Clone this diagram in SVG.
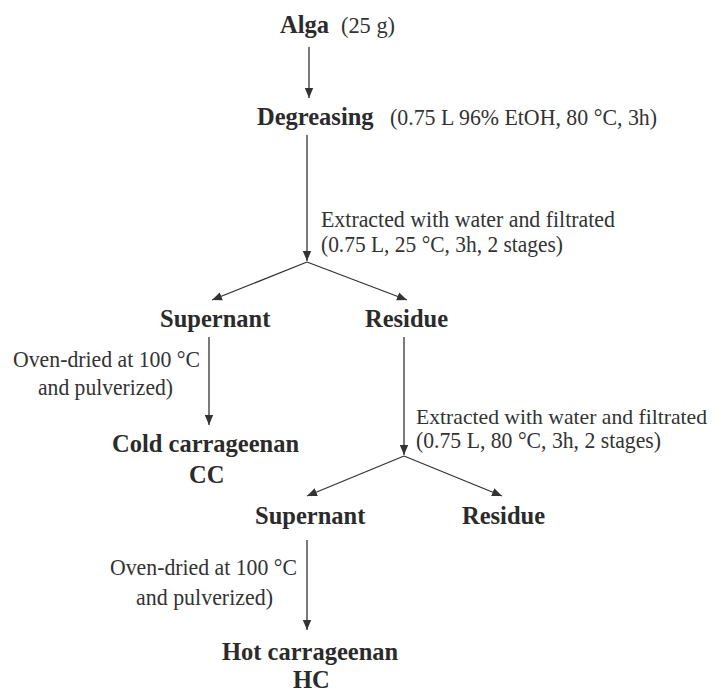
<svg xmlns="http://www.w3.org/2000/svg" width="714" height="693" viewBox="0 0 714 693">
<style>
.b{font-family:"Liberation Serif","Times New Roman",serif;font-weight:bold;font-size:24.5px;fill:#2b2b2b}
.r{font-family:"Liberation Serif","Times New Roman",serif;font-size:23px;fill:#333}
.c{stroke:#333;stroke-width:1.3;fill:none}
</style>
<defs>
<marker id="ah" markerUnits="userSpaceOnUse" markerWidth="12" markerHeight="10" refX="10" refY="5" orient="auto">
<path d="M0,0.8 L10,5 L0,9.2 Z" fill="#333"/>
</marker>
</defs>
<rect width="714" height="693" fill="#fff"/>
<g id="connectors">
<line class="c" x1="309" y1="47" x2="309" y2="98" marker-end="url(#ah)"/>
<line class="c" x1="307" y1="135" x2="307" y2="261" marker-end="url(#ah)"/>
<line class="c" x1="307" y1="262" x2="212" y2="300" marker-end="url(#ah)"/>
<line class="c" x1="307" y1="262" x2="407" y2="300" marker-end="url(#ah)"/>
<line class="c" x1="209" y1="337" x2="209" y2="425" marker-end="url(#ah)"/>
<line class="c" x1="404" y1="337" x2="404" y2="455" marker-end="url(#ah)"/>
<line class="c" x1="404" y1="456" x2="307" y2="496" marker-end="url(#ah)"/>
<line class="c" x1="404" y1="456" x2="502" y2="496" marker-end="url(#ah)"/>
<line class="c" x1="307" y1="540" x2="307" y2="630" marker-end="url(#ah)"/>
</g>
<g id="alga">
<text class="b" x="280" y="33">Alga</text>
<text class="r" x="341" y="33" textLength="54" lengthAdjust="spacingAndGlyphs">(25 g)</text>
</g>
<g id="degreasing">
<text class="b" x="257" y="125">Degreasing</text>
<text class="r" x="390" y="125" textLength="267" lengthAdjust="spacingAndGlyphs">(0.75 L 96% EtOH, 80 °C, 3h)</text>
</g>
<g id="extract1">
<text class="r" x="321" y="227" textLength="294" lengthAdjust="spacingAndGlyphs">Extracted with water and filtrated</text>
<text class="r" x="321" y="252" textLength="242" lengthAdjust="spacingAndGlyphs">(0.75 L, 25 °C, 3h, 2 stages)</text>
</g>
<g id="supernant1">
<text class="b" x="160" y="327">Supernant</text>
</g>
<g id="residue1">
<text class="b" x="365" y="327">Residue</text>
</g>
<g id="dry1">
<text class="r" x="13" y="367" textLength="187" lengthAdjust="spacingAndGlyphs">Oven-dried at 100 °C</text>
<text class="r" x="38" y="395" textLength="135" lengthAdjust="spacingAndGlyphs">and pulverized)</text>
</g>
<g id="cold">
<text class="b" x="112" y="452">Cold carrageenan</text>
<text class="b" x="189" y="483">CC</text>
</g>
<g id="extract2">
<text class="r" x="416" y="424" font-size="21.5" style="font-size:21.5px" textLength="291" lengthAdjust="spacingAndGlyphs">Extracted with water and filtrated</text>
<text class="r" x="416" y="448" textLength="245" lengthAdjust="spacingAndGlyphs">(0.75 L, 80 °C, 3h, 2 stages)</text>
</g>
<g id="supernant2">
<text class="b" x="255" y="524">Supernant</text>
</g>
<g id="residue2">
<text class="b" x="462" y="524">Residue</text>
</g>
<g id="dry2">
<text class="r" x="110" y="575" textLength="187" lengthAdjust="spacingAndGlyphs">Oven-dried at 100 °C</text>
<text class="r" x="136" y="605" textLength="137" lengthAdjust="spacingAndGlyphs">and pulverized)</text>
</g>
<g id="hot">
<text class="b" x="222" y="660">Hot carrageenan</text>
<text class="b" x="293" y="688">HC</text>
</g>
</svg>
